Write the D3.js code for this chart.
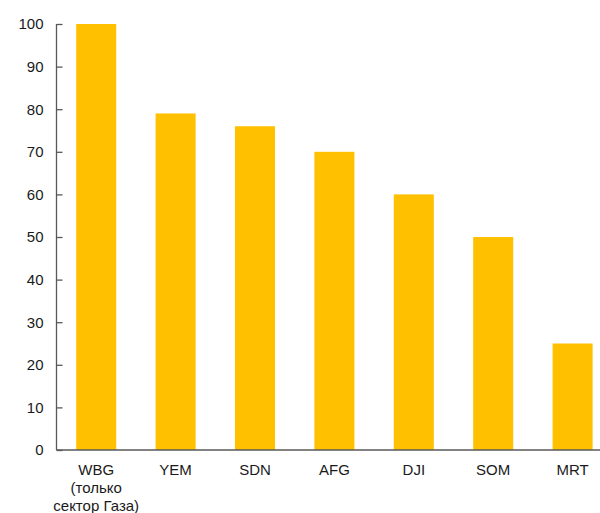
<!DOCTYPE html>
<html>
<head>
<meta charset="utf-8">
<script src="https://cdn.jsdelivr.net/npm/d3@7"></script>
<style>
  html, body { margin: 0; padding: 0; background: #fff; }
  svg { display: block; }
  text { font-family: "Liberation Sans", Arial, sans-serif; }
</style>
</head>
<body>
<svg id="chart" width="600" height="513"></svg>
<script>
// Categories (x-axis labels; line breaks split with "\n")
const categories = ["WBG\n(только\nсектор Газа)", "YEM", "SDN", "AFG", "DJI", "SOM", "MRT"];
// Bar values
const values = [100, 79, 76, 70, 60, 50, 25];
// Y-axis tick values
const yTicks = [0, 10, 20, 30, 40, 50, 60, 70, 80, 90, 100];

const svg = d3.select("#chart");
const axisColor = "#595959";
const textColor = "#1a1a1a";
const barColor = "#FFC000";

const x0 = 56.5, y0 = 450, yTop = 24;

const y = d3.scaleLinear().domain([0, 100]).range([y0, yTop]);
const x = d3.scaleBand()
  .domain(categories)
  .range([x0, x0 + 7 * 79.4])
  .paddingInner(0.496)
  .paddingOuter(0.248);

// Bars
svg.append("g")
  .selectAll("rect")
  .data(values)
  .join("rect")
  .attr("x", (d, i) => x(categories[i]))
  .attr("y", d => y(d))
  .attr("width", x.bandwidth())
  .attr("height", d => y0 - y(d))
  .attr("fill", barColor);

// Y axis with inward ticks
const yAxis = svg.append("g")
  .attr("transform", `translate(${x0},0)`)
  .call(d3.axisLeft(y).tickValues(yTicks).tickSize(-6).tickPadding(13));
yAxis.select(".domain").attr("stroke", axisColor).attr("stroke-width", 1.3)
  .attr("d", `M0,${yTop}V${y0}`);
yAxis.selectAll(".tick line").attr("stroke", axisColor).attr("stroke-width", 1.3);
yAxis.selectAll(".tick text")
  .attr("fill", textColor)
  .style("font-size", "15px")
  .style("font-family", "'Liberation Sans', Arial, sans-serif");

// X axis baseline
svg.append("line")
  .attr("x1", x0).attr("x2", 600)
  .attr("y1", y0).attr("y2", y0)
  .attr("stroke", axisColor).attr("stroke-width", 1.3);

// X labels
const xl = svg.append("g")
  .selectAll("text")
  .data(categories)
  .join("text")
  .attr("text-anchor", "middle")
  .attr("fill", textColor)
  .style("font-size", "15px");
xl.each(function (d) {
  const cx = x(d) + x.bandwidth() / 2;
  d3.select(this).selectAll("tspan")
    .data(d.split("\n"))
    .join("tspan")
    .attr("x", cx)
    .attr("y", (s, i) => 475 + i * 18)
    .text(s => s);
});
</script>
</body>
</html>
